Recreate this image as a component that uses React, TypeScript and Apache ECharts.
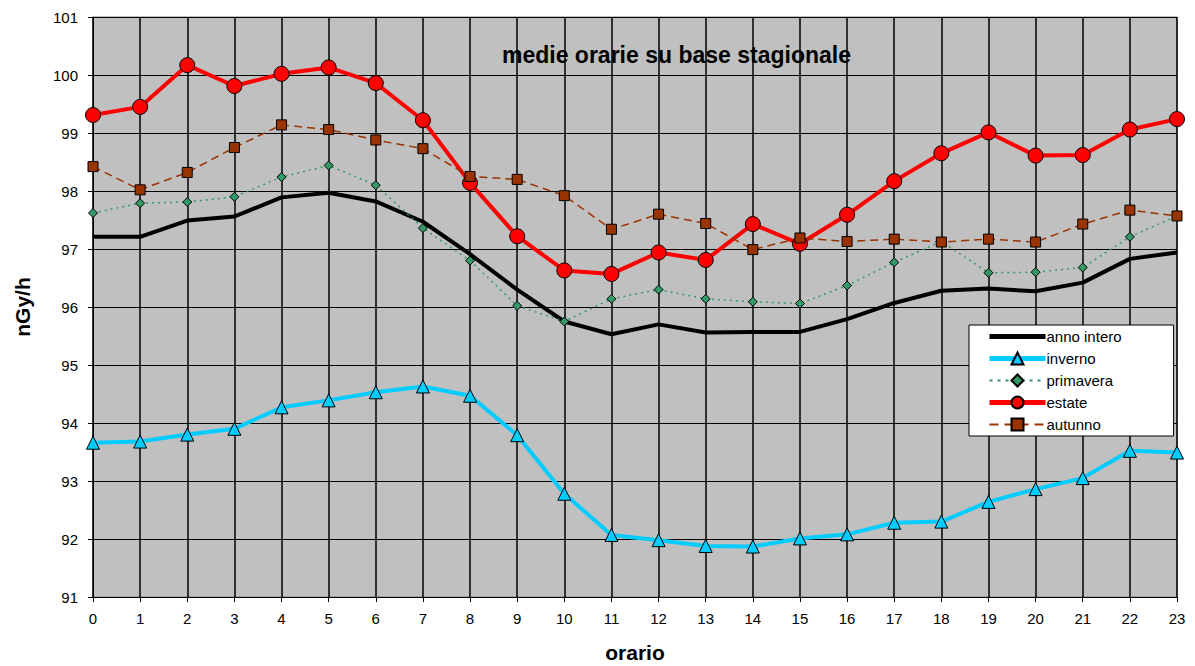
import React, { useEffect, useRef } from "react";
import * as echarts from "echarts";

const hours = ["0","1","2","3","4","5","6","7","8","9","10","11","12","13","14","15","16","17","18","19","20","21","22","23"];

const annoIntero = [97.21, 97.21, 97.49, 97.56, 97.89, 97.97, 97.82, 97.47, 96.91, 96.30, 95.75, 95.53, 95.70, 95.56, 95.57, 95.57, 95.79, 96.07, 96.28, 96.32, 96.27, 96.42, 96.83, 96.94];
const inverno = [93.66, 93.68, 93.80, 93.90, 94.27, 94.39, 94.53, 94.63, 94.47, 93.79, 92.78, 92.07, 91.98, 91.88, 91.87, 92.01, 92.08, 92.28, 92.30, 92.64, 92.86, 93.05, 93.52, 93.49];
const primavera = [97.62, 97.79, 97.81, 97.90, 98.24, 98.44, 98.10, 97.36, 96.80, 96.02, 95.75, 96.14, 96.30, 96.14, 96.09, 96.06, 96.37, 96.77, 97.13, 96.59, 96.60, 96.68, 97.21, 97.57];
const estate = [99.31, 99.45, 100.17, 99.81, 100.02, 100.13, 99.86, 99.22, 98.14, 97.22, 96.63, 96.57, 96.94, 96.81, 97.43, 97.09, 97.59, 98.17, 98.65, 99.01, 98.61, 98.62, 99.06, 99.24];
const autunno = [98.42, 98.02, 98.32, 98.75, 99.14, 99.06, 98.88, 98.73, 98.25, 98.20, 97.92, 97.34, 97.60, 97.44, 96.99, 97.19, 97.13, 97.17, 97.12, 97.17, 97.12, 97.43, 97.67, 97.57];

const FONT = "'Liberation Sans', Arial, sans-serif";

export default function App() {
  const ref = useRef<HTMLDivElement>(null);
  useEffect(() => {
    if (!ref.current) return;
    const chart = echarts.init(ref.current, null, { renderer: "svg" });
    chart.setOption({
      animation: false,
      backgroundColor: "#ffffff",
      textStyle: { fontFamily: FONT },
      title: {
        text: "medie orarie su base stagionale",
        left: 497,
        top: 38,
        textStyle: { fontFamily: FONT, fontSize: 23, fontWeight: "bold", color: "#000" },
      },
      grid: {
        left: 93,
        right: 18,
        top: 17,
        bottom: 69,
        outerBoundsMode: "none",
        containLabel: false,
        show: true,
        backgroundColor: "#C0C0C0",
        borderColor: "#808080",
        borderWidth: 1,
      },
      legend: {
        orient: "vertical",
        left: 969,
        top: 325,
        padding: [4, 52, 4, 18],
        backgroundColor: "#ffffff",
        borderColor: "#000",
        borderWidth: 1,
        borderRadius: 0,
        itemWidth: 56,
        itemHeight: 15,
        itemGap: 7,
        textStyle: { fontFamily: FONT, fontSize: 15, color: "#000", padding: [0, 0, 0, -4] },
        data: [
          { name: "anno intero", itemStyle: { color: "transparent", borderWidth: 0 }, lineStyle: { color: "#000", width: 5 } },
          { name: "inverno", lineStyle: { color: "#00CCFF", width: 5 } },
          { name: "primavera", lineStyle: { color: "#339966", width: 2, type: [3, 5] } },
          { name: "estate", lineStyle: { color: "#FF0000", width: 5 } },
          { name: "autunno", lineStyle: { color: "#993300", width: 2, type: [9, 6] } },
        ],
      },
      xAxis: {
        type: "category",
        data: hours,
        boundaryGap: false,
        name: "orario",
        nameLocation: "middle",
        nameGap: 45,
        nameTextStyle: { fontFamily: FONT, fontSize: 21, fontWeight: "bold", color: "#000" },
        axisLine: { lineStyle: { color: "#000", width: 1 } },
        axisTick: { show: true, length: 5, lineStyle: { color: "#000" } },
        axisLabel: { fontFamily: FONT, fontSize: 15, color: "#000", margin: 14 },
        splitLine: { show: true, lineStyle: { color: "#000", width: 1.5 } },
      },
      yAxis: {
        type: "value",
        min: 91,
        max: 101,
        interval: 1,
        name: "nGy/h",
        nameLocation: "middle",
        nameRotate: 90,
        nameGap: 60,
        nameTextStyle: { fontFamily: FONT, fontSize: 21, fontWeight: "bold", color: "#000" },
        axisLine: { show: true, lineStyle: { color: "#000", width: 1 } },
        axisTick: { show: true, length: 5, lineStyle: { color: "#000" } },
        axisLabel: { fontFamily: FONT, fontSize: 15, color: "#000", margin: 15 },
        splitLine: { show: true, lineStyle: { color: "#000", width: 1 } },
      },
      series: [
        {
          name: "anno intero",
          type: "line",
          data: annoIntero,
          symbol: "none",
          lineStyle: { color: "#000", width: 4 },
          itemStyle: { color: "#000" },
        },
        {
          name: "inverno",
          type: "line",
          data: inverno,
          symbol: "triangle",
          symbolSize: 13,
          lineStyle: { color: "#00CCFF", width: 4 },
          itemStyle: { color: "#00CCFF", borderColor: "#000", borderWidth: 1 },
        },
        {
          name: "primavera",
          type: "line",
          data: primavera,
          symbol: "diamond",
          symbolSize: 9,
          lineStyle: { color: "#339966", width: 1.5, type: [2, 4] },
          itemStyle: { color: "#339966", borderColor: "#000", borderWidth: 1 },
        },
        {
          name: "estate",
          type: "line",
          data: estate,
          symbol: "circle",
          symbolSize: 15,
          lineStyle: { color: "#FF0000", width: 4 },
          itemStyle: { color: "#FF0000", borderColor: "#000", borderWidth: 1 },
        },
        {
          name: "autunno",
          type: "line",
          data: autunno,
          symbol: "rect",
          symbolSize: 10,
          lineStyle: { color: "#993300", width: 1.5, type: [8, 5] },
          itemStyle: { color: "#993300", borderColor: "#000", borderWidth: 1 },
        },
      ],
    });
    return () => chart.dispose();
  }, []);
  return <div ref={ref} style={{ width: 1195, height: 666, position: "absolute", left: 0, top: 0 }} />;
}
